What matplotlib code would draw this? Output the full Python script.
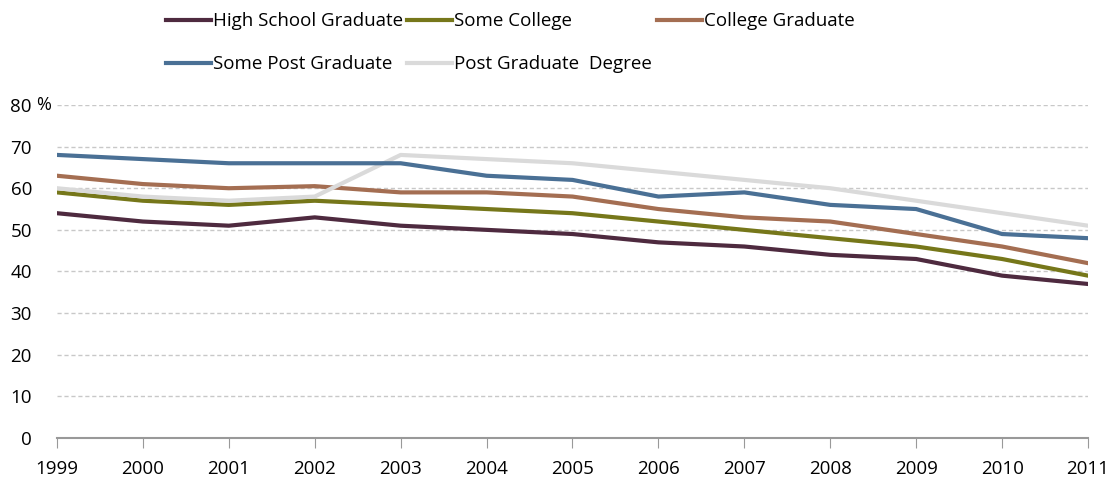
import matplotlib.pyplot as plt

years = [1999, 2000, 2001, 2002, 2003, 2004, 2005, 2006, 2007, 2008, 2009, 2010, 2011]
high_school = [54, 52, 51, 53, 51, 50, 49, 47, 46, 44, 43, 39, 37]
some_college = [59, 57, 56, 57, 56, 55, 54, 52, 50, 48, 46, 43, 39]
college_grad = [63, 61, 60, 60.5, 59, 59, 58, 55, 53, 52, 49, 46, 42]
some_post_grad = [68, 67, 66, 66, 66, 63, 62, 58, 59, 56, 55, 49, 48]
post_grad_degree = [60, 58, 57, 58, 68, 67, 66, 64, 62, 60, 57, 54, 51]

y_ticks = [0, 10, 20, 30, 40, 50, 60, 70, 80]
y_labels = ["0", "10", "20", "30", "40", "50", "60", "70", "80"]


def main():
    plt.rcParams["font.family"] = ["Open Sans", "DejaVu Sans"]
    fig = plt.figure(figsize=(11.15, 4.8), dpi=100)
    ax = fig.add_axes([0.0511, 0.0875, 0.9247, 0.6938])

    lines = {}
    lines["hs"], = ax.plot(years, high_school, color="#4E2A3F", lw=3, label="High School Graduate")
    lines["sc"], = ax.plot(years, some_college, color="#76771A", lw=3, label="Some College")
    lines["cg"], = ax.plot(years, college_grad, color="#A46E52", lw=3, label="College Graduate")
    lines["pd"], = ax.plot(years, post_grad_degree, color="#DADADA", lw=3, label="Post Graduate  Degree")
    lines["sp"], = ax.plot(years, some_post_grad, color="#4A7095", lw=3, label="Some Post Graduate")

    ax.set_xlim(years[0], years[-1])
    ax.set_ylim(0, 80)
    ax.set_xticks(years)
    ax.set_yticks(y_ticks)
    ax.set_yticklabels(y_labels)
    ax.tick_params(axis="y", length=0, pad=18, labelsize=13.5)
    ax.tick_params(axis="x", direction="out", length=7, color="#999999", labelsize=13.5, pad=9)
    # percent sign next to the top label
    ax.annotate("%", xy=(0, 80), xycoords=("axes fraction", "data"),
                xytext=(-15, 0), textcoords="offset points",
                ha="left", va="center", fontsize=13)
    ax.grid(axis="y", color="#C8C8C8", linestyle=(0, (3, 2)), lw=1)
    ax.set_axisbelow(True)
    for s in ["left", "right", "top"]:
        ax.spines[s].set_visible(False)
    ax.spines["bottom"].set_color("#999999")
    ax.spines["bottom"].set_linewidth(1.5)

    order = ["hs", "sp", "sc", "pd", "cg"]
    fig.legend([lines[k] for k in order], [lines[k].get_label() for k in order],
               loc="upper left", bbox_to_anchor=(0.1335, 1.01), ncol=3, frameon=False,
               fontsize=13.5, handlelength=2.4, handletextpad=0.1, columnspacing=0.25,
               labelspacing=1.35)

    plt.savefig("out.png", dpi=100)
    plt.close()


if __name__ == "__main__":
    main()
